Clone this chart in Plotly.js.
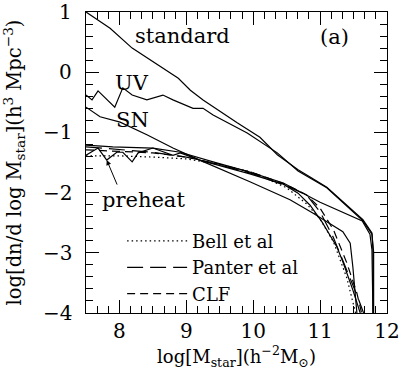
<!DOCTYPE html>
<html><head><meta charset="utf-8">
<script src="https://cdn.plot.ly/plotly-3.0.1.min.js"></script>
<style>html,body{margin:0;padding:0;background:#fff}#c{width:400px;height:374px}</style>
</head><body><div id="c"></div>
<script>
// ---- data ----
const stdX = [7.5, 7.86, 8.19, 8.61, 8.88, 9.06, 9.25, 9.76, 10.10, 10.36, 10.67, 10.85, 11.10, 11.64, 11.775, 11.79, 11.79];
const stdY = [1.0, 0.73, 0.40, 0.09, -0.10, -0.30, -0.46, -0.84, -1.08, -1.37, -1.62, -1.74, -1.91, -2.45, -2.67, -2.95, -4.0];

const uvX = [7.5, 7.59, 7.68, 7.93, 8.05, 8.19, 8.41, 8.65, 8.80, 9.10, 9.25, 9.40, 9.91, 10.36, 10.67, 11.10, 11.64, 11.775, 11.80, 11.80];
const uvY = [-0.38, -0.46, -0.31, -0.58, -0.26, -0.38, -0.46, -0.38, -0.46, -0.60, -0.60, -0.71, -1.01, -1.34, -1.64, -1.92, -2.47, -2.69, -2.99, -4.0];

const snX = [7.5, 7.71, 8.01, 8.41, 8.80, 9.20, 9.95, 10.55, 10.89, 11.34, 11.45, 11.49, 11.55];
const snY = [-0.58, -0.74, -0.83, -1.04, -1.26, -1.46, -1.82, -2.12, -2.34, -2.65, -2.84, -3.24, -4.0];

const preX = [7.5, 7.68, 7.81, 7.96, 8.05, 8.19, 8.28, 8.50, 8.80, 8.91, 9.20, 9.95, 10.45, 10.67, 10.85, 11.03, 11.25, 11.34, 11.49, 11.60];
const preY = [-1.38, -1.26, -1.46, -1.33, -1.33, -1.49, -1.34, -1.26, -1.38, -1.34, -1.46, -1.69, -1.86, -2.01, -2.21, -2.49, -2.90, -3.15, -3.62, -4.0];

const pre2X = [7.5, 7.90, 8.50, 8.91, 9.40, 9.95, 10.45, 10.67, 11.00, 11.63, 11.745, 11.775, 11.79];
const pre2Y = [-1.21, -1.24, -1.26, -1.33, -1.49, -1.66, -1.84, -1.97, -2.16, -2.47, -2.69, -2.95, -4.0];

const bellX = [7.5, 8.0, 8.5, 9.0, 9.5, 10.0, 10.5, 10.8, 11.0, 11.2, 11.4, 11.5, 11.53];
const bellY = [-1.39, -1.39, -1.41, -1.44, -1.53, -1.67, -1.92, -2.19, -2.44, -2.82, -3.42, -3.83, -4.0];

const panX = [7.5, 8.0, 8.5, 9.0, 9.5, 10.0, 10.5, 10.8, 11.0, 11.2, 11.4, 11.55, 11.65];
const panY = [-1.24, -1.28, -1.33, -1.41, -1.54, -1.69, -1.89, -2.04, -2.32, -2.75, -3.29, -3.70, -4.0];

const clfX = [7.5, 8.0, 8.5, 9.0, 9.5, 10.0, 10.5, 10.8, 11.0, 11.2, 11.4, 11.55, 11.62];
const clfY = [-1.29, -1.31, -1.34, -1.41, -1.53, -1.67, -1.87, -2.04, -2.26, -2.62, -3.17, -3.67, -4.0];

const labels = ["standard", "UV", "SN", "preheat", "(a)"];
const labelX = [8.95, 8.19, 8.20, 8.36, 11.22];
const labelY = [0.60, -0.18, -0.79, -2.13, 0.58];
const legendNames = ["Bell et al", "Panter et al", "CLF"];
const xTicks = [8, 9, 10, 11, 12];
const yTicks = [-4, -3, -2, -1, 0, 1];

// ---- chart ----
const FONT = "DejaVu Serif, Liberation Serif, serif";
const solid = {color: "#000", width: 1.2};
function line(x, y, name, lineStyle, show) {
  return {x: x, y: y, type: "scatter", mode: "lines", name: name,
          line: lineStyle, showlegend: !!show, hoverinfo: "skip"};
}
const traces = [
  line(stdX, stdY, "standard", solid),
  line(uvX, uvY, "UV", solid),
  line(snX, snY, "SN", solid),
  line(preX, preY, "preheat", solid),
  line(pre2X, pre2Y, "preheat b", solid),
  line(bellX, bellY, legendNames[0], {color: "#000", width: 1.2, dash: "1.5px,3px"}, true),
  line(panX, panY, legendNames[1], {color: "#000", width: 1.2, dash: "16px,7px"}, true),
  line(clfX, clfY, legendNames[2], {color: "#000", width: 1.2, dash: "8px,5px"}, true)
];

const ann = labels.map((t, i) => ({
  x: labelX[i], y: labelY[i], xref: "x", yref: "y", text: t, showarrow: false,
  font: {family: FONT, size: 21, color: "#000"}
}));
ann.push({x: 7.81, y: -1.46, xref: "x", yref: "y", text: "", showarrow: true,
  arrowhead: 2, arrowsize: 1, arrowwidth: 1, arrowcolor: "#000", ax: 11, ay: 26});
// y tick labels (drawn as text next to the axis)
yTicks.forEach(v => ann.push({
  x: -0.04, xref: "paper", xanchor: "right", y: v, yref: "y", yanchor: "middle",
  text: v < 0 ? "−" + Math.abs(v) : String(v), showarrow: false,
  font: {family: FONT, size: 20, color: "#000"}
}));

const axisCommon = {
  showline: true, linecolor: "#000", linewidth: 1.3, mirror: "allticks",
  ticks: "inside", ticklen: 13, tickwidth: 1, tickcolor: "#000",
  showgrid: false, zeroline: false,
  tickfont: {family: FONT, size: 20, color: "#000"}
};

const layout = {
  width: 400, height: 374,
  margin: {l: 86, r: 13, t: 12, b: 61},
  paper_bgcolor: "#fff", plot_bgcolor: "#fff",
  font: {family: FONT, color: "#000"},
  showlegend: true,
  legend: {x: 0.12, y: 0.30, xanchor: "left", yanchor: "top",
           bgcolor: "rgba(0,0,0,0)", font: {family: FONT, size: 18, color: "#000"},
           tracegroupgap: 0, itemwidth: 60},
  xaxis: Object.assign({}, axisCommon, {
    range: [7.5, 12], tickmode: "array", tickvals: xTicks, ticktext: xTicks.map(String),
    minor: {dtick: 1/6, ticks: "inside", ticklen: 7, tickcolor: "#000", tickwidth: 1, showgrid: false},
    title: {text: "log[M<sub>star</sub>](h<sup>−2</sup>M<sub>⊙</sub>)", font: {family: FONT, size: 18, color: "#000"}, standoff: 4}
  }),
  yaxis: Object.assign({}, axisCommon, {
    range: [-4, 1], tickmode: "array", tickvals: yTicks, showticklabels: false,
    minor: {dtick: 0.2, ticks: "inside", ticklen: 7, tickcolor: "#000", tickwidth: 1, showgrid: false},
    title: {text: "log[dn/d log M<sub>star</sub>](h<sup>3</sup> Mpc<sup>−3</sup>)", font: {family: FONT, size: 19.5, color: "#000"}, standoff: 58}
  }),
  annotations: ann
};

Plotly.newPlot("c", traces, layout, {staticPlot: true, displayModeBar: false});
</script></body></html>
